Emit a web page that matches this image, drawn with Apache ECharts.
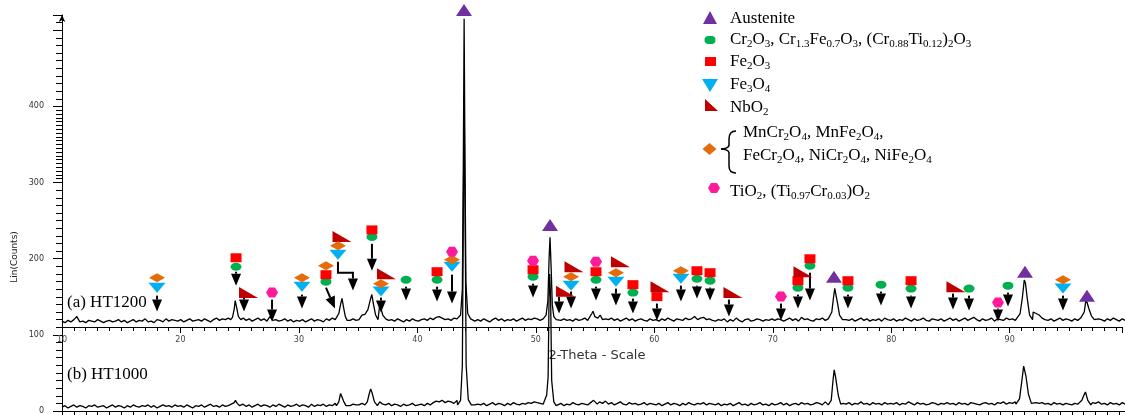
<!DOCTYPE html>
<html><head><meta charset="utf-8">
<script src="https://cdn.jsdelivr.net/npm/echarts@6/dist/echarts.min.js"></script>
<style>html,body{margin:0;padding:0;background:#fff}#c{width:1125px;height:415px}</style>
</head><body><div id="c"></div><script>
// ---------------- data ----------------
const X_MIN = 10, X_MAX = 99.48, STEP = 0.25;
const xTickLabels = [10, 20, 30, 40, 50, 60, 70, 80, 90];
const yTickLabels = [0, 100, 200, 300, 400];

// (a) HT1200 baseline, counts every 0.25 deg from 10.00
const upperBase = [
118,116,119,117,120,124,117,118,116,119,118,117,120,118,116,118,119,117,118,120,
117,119,116,118,120,117,119,118,121,117,118,116,120,119,117,121,118,120,119,118,
120,117,119,121,118,119,120,118,121,119,117,120,122,119,121,120,122,121,125,122,
120,122,119,121,118,120,122,119,121,118,124,119,120,118,119,121,118,120,117,119,
118,120,117,119,121,118,120,119,117,121,119,122,120,118,119,121,120,119,121,119,
120,122,124,126,125,128,132,140,126,121,119,120,118,121,119,117,120,118,121,119,
118,120,121,119,122,120,123,124,122,120,121,119,122,121,123,125,121,119,120,118,
120,118,121,119,117,120,122,119,121,118,120,119,121,118,120,122,119,121,120,122,
121,119,122,124,125,122,120,118,119,121,119,120,118,121,119,120,122,119,121,126,
124,122,125,121,120,122,119,121,118,120,122,119,121,118,120,121,119,118,121,119,
120,118,121,119,122,120,118,121,120,119,122,120,121,124,120,122,123,120,121,119,
118,120,119,121,117,120,118,122,119,117,120,121,118,119,121,120,118,120,119,121,
119,121,120,118,120,122,119,121,118,123,120,121,119,118,121,120,122,119,121,123,
122,121,120,122,120,119,121,118,120,122,119,121,118,120,119,121,118,122,120,119,
121,118,120,119,122,120,118,121,119,120,122,119,118,121,120,119,121,118,120,122,
119,121,118,120,122,119,121,123,120,118,121,119,120,122,118,121,120,119,122,120,
121,119,122,120,124,126,128,130,128,126,122,120,119,121,118,120,122,119,121,120,
118,121,119,122,120,122,124,124,122,121,120,118,121,119,122,120,118,121,119,120
];
// (b) HT1000 baseline, counts every 0.25 deg from 10.00
const lowerBase = [
5,7,4,6,8,5,7,6,4,7,6,8,5,6,7,4,6,8,5,7,
6,4,7,5,8,6,5,7,6,8,5,7,4,6,8,6,7,5,8,6,
7,5,8,6,4,7,6,8,5,7,9,6,7,5,8,6,7,9,11,8,
7,9,6,8,5,7,9,6,8,7,5,8,6,9,7,5,8,6,7,9,
6,8,7,5,9,6,8,7,9,6,8,7,10,8,6,9,8,7,9,8,
8,10,9,12,16,24,20,12,9,8,10,7,9,8,6,9,7,8,10,7,
8,9,7,10,8,11,13,12,14,11,13,12,10,14,11,9,8,9,10,8,
9,8,10,7,9,11,8,10,9,7,10,8,11,9,8,10,9,11,10,12,
11,10,13,16,20,15,9,8,10,7,9,8,11,9,8,10,9,8,11,12,
14,12,10,13,9,11,8,10,12,9,8,11,9,10,8,9,11,8,10,9,
8,10,7,9,11,8,10,9,7,10,8,11,9,8,10,9,11,8,10,9,
8,10,7,9,8,10,7,9,11,8,9,7,10,8,9,11,8,9,7,10,
8,9,11,8,10,7,9,10,8,11,9,10,8,9,11,10,8,12,10,13,
10,11,9,10,9,11,8,10,9,12,9,10,8,11,9,10,8,11,9,10,
9,11,8,10,9,12,10,8,11,9,10,8,9,11,10,8,10,9,11,9,
10,8,11,9,10,8,11,10,9,8,10,11,9,10,8,11,10,12,9,11,
10,12,11,14,12,11,10,12,11,10,11,9,10,8,11,9,10,8,10,9,
8,10,9,11,10,11,10,11,10,12,9,10,8,11,9,10,8,11,9,10
];
// peak profiles [2theta, counts]
const upperPeaks = [
  [[24.2,120],[24.35,123],[24.5,134],[24.58,145],[24.7,136],[24.85,124],[25.05,120]],
  [[33.1,121],[33.3,128],[33.45,140],[33.57,148],[33.7,136],[33.85,124],[34.0,119]],
  [[35.0,120],[35.25,126],[35.5,127],[35.75,133],[35.95,146],[36.08,153],[36.22,140],[36.4,126],[36.6,120]],
  [[43.3,121],[43.55,126],[43.7,160],[43.78,320],[43.85,515],[43.92,330],[44.0,168],[44.15,128],[44.4,121]],
  [[50.5,121],[50.75,126],[50.9,145],[51.0,200],[51.08,228],[51.17,190],[51.27,140],[51.4,124],[51.6,120]],
  [[54.4,120],[54.6,128],[54.7,131],[54.85,124],[55.1,122],[55.3,126],[55.5,120]],
  [[74.6,121],[74.8,130],[74.95,150],[75.05,161],[75.18,150],[75.3,140],[75.45,126],[75.7,120]],
  [[90.4,121],[90.65,128],[90.85,150],[91.0,172],[91.1,168],[91.25,148],[91.45,126],[91.7,120]],
  [[95.8,120],[96.05,130],[96.2,147],[96.3,146],[96.45,134],[96.65,125],[96.9,120]]
];
const lowerPeaks = [
  [[24.3,7],[24.5,11],[24.6,14],[24.75,10],[24.95,7]],
  [[33.1,7],[33.3,12],[33.45,23],[33.55,22],[33.7,13],[33.9,7]],
  [[35.5,8],[35.7,12],[35.85,22],[35.98,29],[36.1,24],[36.3,12],[36.55,7]],
  [[43.3,8],[43.55,14],[43.7,60],[43.78,250],[43.85,413],[43.93,260],[44.02,60],[44.2,15],[44.45,8]],
  [[50.5,9],[50.8,21],[50.92,45],[51.0,150],[51.05,180],[51.13,150],[51.22,40],[51.4,12],[51.6,7]],
  [[54.6,9],[54.75,14],[54.9,12],[55.05,9]],
  [[74.5,8],[74.75,14],[74.9,40],[75.0,54],[75.1,46],[75.2,36],[75.35,20],[75.55,9]],
  [[90.3,9],[90.6,16],[90.8,40],[90.95,59],[91.05,52],[91.15,45],[91.35,22],[91.6,10]],
  [[95.6,9],[95.85,14],[96.0,20],[96.15,25],[96.35,14],[96.6,8]]
];

// phase markers [2theta, counts]
const austenite = [[43.84,526.5],[51.08,244.3],[74.98,176.4],[91.06,182.9],[96.28,151.5]];
const cr2o3 = [[24.65,189.4],[32.22,169.8],[36.09,228.6],[38.96,172.4],[41.57,172.4],[49.65,176.4],[54.95,172.4],[58.06,155.5],[63.45,173.7],[64.55,171.1],[71.95,162],[72.96,190.7],[76.16,162],[78.94,165.9],[81.47,160.7],[86.35,160.7],[89.63,164.6]];
const fe2o3 = [[24.65,201.2],[32.22,179],[36.09,237.8],[41.57,182.9],[49.65,185.5],[54.95,182.9],[58.06,165.9],[60.08,150.2],[63.45,184.2],[64.55,181.6],[71.95,171.1],[72.96,199.9],[76.16,171.1],[81.47,171.1]];
const fe3o4 = [[18.0,162],[30.2,163.3],[33.23,205.1],[36.85,156.8],[42.83,189.4],[52.85,164.6],[56.63,169.8],[62.1,173.7],[94.26,160.7]];
const nbo2 = [[25.70,155.5],[33.57,229.3],[37.31,180.3],[52.38,157.4],[53.1,189.4],[57.01,196],[60.34,163.3],[66.48,155.5],[72.37,182.9],[85.25,163.3]];
const spinel = [[18.0,175],[30.2,175],[32.22,190.7],[33.23,216.9],[36.85,167.2],[42.83,198.6],[52.85,176.4],[56.63,181.6],[62.1,184.2],[94.26,172.4]];
const tio2 = [[27.68,155.5],[42.83,209],[49.65,197.3],[54.95,196],[70.52,150.2],[88.79,142.4]];
// arrows: polyline from start to tip, [2theta, counts]
const arrows = [
  [[18.0,151.5],[18.0,130.6]],
  [[24.65,182.9],[24.65,164.6]],
  [[25.32,150.2],[25.32,130.6]],
  [[27.68,146.3],[27.68,117.6]],
  [[30.2,152.8],[30.2,134.6]],
  [[32.22,162.0],[32.98,134.6]],
  [[33.23,196.0],[33.23,181.6],[34.49,181.6],[34.49,158.1]],
  [[36.09,219.5],[36.09,184.2]],
  [[36.85,148.9],[36.85,129.3]],
  [[38.96,163.3],[38.96,145.0]],
  [[41.57,163.3],[41.57,143.7]],
  [[42.83,179.0],[42.83,141.1]],
  [[49.65,167.2],[49.65,148.9]],
  [[51.84,150.2],[51.84,128.0]],
  [[52.85,156.8],[52.85,134.6]],
  [[54.95,163.3],[54.95,145.0]],
  [[56.63,160.7],[56.63,138.5]],
  [[58.06,147.6],[58.06,128.0]],
  [[60.08,141.1],[60.08,118.9]],
  [[62.1,164.6],[62.1,143.7]],
  [[63.45,164.6],[63.45,147.6]],
  [[64.55,162.0],[64.55,145.0]],
  [[66.14,146.3],[66.14,124.1]],
  [[70.52,141.1],[70.52,118.9]],
  [[71.95,152.8],[71.95,134.6]],
  [[72.96,181.6],[72.96,145.0]],
  [[76.16,152.8],[76.16,134.6]],
  [[78.94,156.8],[78.94,138.5]],
  [[81.47,151.5],[81.47,134.6]],
  [[85.0,154.1],[85.0,133.2]],
  [[86.35,151.5],[86.35,131.9]],
  [[88.79,134.6],[88.79,117.6]],
  [[89.63,155.5],[89.63,137.2]],
  [[94.26,151.5],[94.26,131.9]]
];
const legendRows = [
  'Austenite',
  'Cr[2]O[3], Cr[1.3]Fe[0.7]O[3], (Cr[0.88]Ti[0.12])[2]O[3]',
  'Fe[2]O[3]',
  'Fe[3]O[4]',
  'NbO[2]',
  'MnCr[2]O[4], MnFe[2]O[4],',
  'FeCr[2]O[4], NiCr[2]O[4], NiFe[2]O[4]',
  'TiO[2], (Ti[0.97]Cr[0.03])O[2]'
];
const sampleLabels = ['(a) HT1200', '(b) HT1000'];
const xName = '2-Theta - Scale', yName = 'Lin(Counts)';

// ---------------- build ----------------
function merge(base, peaks) {
  const ranges = peaks.map(p => [p[0][0], p[p.length - 1][0]]);
  const pts = [];
  base.forEach((v, i) => {
    const x = X_MIN + i * STEP;
    if (!ranges.some(r => x >= r[0] && x <= r[1])) pts.push([x, v]);
  });
  peaks.forEach(p => p.forEach(q => pts.push(q)));
  pts.sort((a, b) => a[0] - b[0]);
  return pts;
}
function chem(s) {
  return s.split(/(\[[^\]]*\])/).filter(p => p.length).map(p =>
    p[0] === '[' ? '{s|' + p.slice(1, -1) + '}' : '{n|' + p + '}').join('');
}
const SERIF = '"Liberation Serif","Times New Roman",serif';
const RICH = {
  n: { fontSize: 17, fontFamily: SERIF, lineHeight: 20, color: '#000' },
  s: { fontSize: 11, fontFamily: SERIF, lineHeight: 12, verticalAlign: 'bottom', color: '#000' }
};
const C = { aus: '#7030A0', cr: '#00B050', fe2: '#FF0000', fe3: '#00B0F0', nb: '#C00000', sp: '#E46C0A', ti: '#FF1A9C' };

function scatter(data, symbol, size, color) {
  return { type: 'scatter', xAxisIndex: 0, yAxisIndex: 0, data, symbol, symbolSize: size,
    itemStyle: { color, opacity: 1 }, clip: false, z: 6, silent: true };
}
const BLACK = { color: '#000', width: 1 };
function xMinorAxis(grid, labels) {
  return { type: 'value', gridIndex: grid, position: 'bottom', min: X_MIN, max: X_MAX, interval: 1,
    axisLine: { show: true, onZero: false, lineStyle: BLACK },
    axisTick: { show: true, length: 4, lineStyle: BLACK },
    axisLabel: labels ? { show: true, margin: 9, fontSize: 8, fontFamily: 'DejaVu Sans', color: '#444',
      formatter: v => (xTickLabels.indexOf(Math.round(v * 100) / 100) >= 0 ? String(v) : '') } : { show: false },
    splitLine: { show: false } };
}
function xMajorAxis(grid) {
  return { type: 'value', gridIndex: grid, position: 'bottom', offset: 0, min: X_MIN, max: X_MAX, interval: 10,
    axisLine: { show: false, onZero: false }, axisLabel: { show: false }, splitLine: { show: false },
    axisTick: { show: true, length: 6, lineStyle: BLACK } };
}

const graphic = [];
// sample labels & axis names
graphic.push({ type: 'text', x: 67, y: 303, style: { text: sampleLabels[0], font: '17px ' + SERIF, fill: '#000', align: 'left', verticalAlign: 'middle' } });
graphic.push({ type: 'text', x: 67, y: 375, style: { text: sampleLabels[1], font: '17px ' + SERIF, fill: '#000', align: 'left', verticalAlign: 'middle' } });
graphic.push({ type: 'text', x: 597, y: 356, style: { text: xName, font: '13px "DejaVu Sans"', fill: '#333', align: 'center', verticalAlign: 'middle' } });
graphic.push({ type: 'text', x: 15, y: 257, rotation: Math.PI / 2, style: { text: yName, font: '9px "DejaVu Sans"', fill: '#222', align: 'center', verticalAlign: 'middle' } });
// legend symbols
graphic.push({ type: 'polygon', shape: { points: [[703, 24], [717, 24], [710, 11]] }, style: { fill: C.aus } });
graphic.push({ type: 'rect', shape: { x: 704.5, y: 36, width: 11, height: 8, r: 4 }, style: { fill: C.cr } });
graphic.push({ type: 'rect', shape: { x: 705, y: 57, width: 11, height: 9 }, style: { fill: C.fe2 } });
graphic.push({ type: 'polygon', shape: { points: [[702, 79], [718, 79], [710, 92]] }, style: { fill: C.fe3 } });
graphic.push({ type: 'polygon', shape: { points: [[705, 99], [705, 111], [718, 111]] }, style: { fill: C.nb } });
graphic.push({ type: 'polygon', shape: { points: [[702.5, 149], [709.5, 143], [716.5, 149], [709.5, 155]] }, style: { fill: C.sp } });
graphic.push({ type: 'polygon', shape: { points: [[711, 183], [717, 183], [720, 188], [717, 193], [711, 193], [708, 188]] }, style: { fill: C.ti } });
// brace
const BS = { stroke: '#000', lineWidth: 1.5, fill: null };
graphic.push({ type: 'bezierCurve', shape: { x1: 736, y1: 131, cpx1: 731, cpy1: 131, cpx2: 729, cpy2: 134, x2: 729, y2: 139 }, style: BS });
graphic.push({ type: 'line', shape: { x1: 729, y1: 139, x2: 729, y2: 145 }, style: BS });
graphic.push({ type: 'bezierCurve', shape: { x1: 729, y1: 145, cpx1: 729, cpy1: 148, cpx2: 724, cpy2: 149, x2: 721, y2: 149 }, style: BS });
graphic.push({ type: 'bezierCurve', shape: { x1: 721, y1: 149, cpx1: 724, cpy1: 149, cpx2: 729, cpy2: 150, x2: 729, y2: 153 }, style: BS });
graphic.push({ type: 'line', shape: { x1: 729, y1: 153, x2: 729, y2: 166 }, style: BS });
graphic.push({ type: 'bezierCurve', shape: { x1: 729, y1: 166, cpx1: 729, cpy1: 171, cpx2: 731, cpy2: 173, x2: 736, y2: 173 }, style: BS });
// legend texts
const rowPos = [[730, 19], [730, 40], [730, 62], [730, 85], [730, 108], [743, 133], [743, 156], [730, 192]];
legendRows.forEach((t, i) => {
  graphic.push({ type: 'text', x: rowPos[i][0], y: rowPos[i][1], style: { text: chem(t), rich: RICH, align: 'left', verticalAlign: 'middle' } });
});

const option = {
  animation: false,
  grid: [
    { left: 62, right: 0, top: 15, bottom: 2 },
    { left: 62, right: 0, top: 15, bottom: 88 }
  ],
  xAxis: [
    xMinorAxis(0, false),
    xMinorAxis(1, true),
    xMajorAxis(0),
    xMajorAxis(1)
  ],
  yAxis: [
    { type: 'value', gridIndex: 0, min: 0, max: 520, interval: 100,
      axisLine: { show: true, lineStyle: BLACK, symbol: ['none', 'arrow'], symbolSize: [5, 7] },
      axisTick: { show: true, length: 9, lineStyle: { color: '#000' } },
      minorTick: { show: true, splitNumber: 10, length: 6, lineStyle: { color: '#000' } },
      axisLabel: { margin: 18, fontSize: 8, fontFamily: 'DejaVu Sans', color: '#333',
        formatter: v => (yTickLabels.indexOf(v) >= 0 ? String(v) : '') },
      splitLine: { show: false }, minorSplitLine: { show: false } },
    { type: 'value', gridIndex: 1, min: 0, max: 1, show: false },
    { type: 'value', gridIndex: 0, min: 0, max: 520, position: 'left',
      axisLine: { show: false }, axisLabel: { show: false }, splitLine: { show: false },
      axisTick: { show: true, length: 6, lineStyle: { color: '#000' },
        customValues: [305, 315, 325, 335, 345, 355, 365, 375, 385, 395] } }
  ],
  graphic,
  series: [
    { type: 'line', xAxisIndex: 0, yAxisIndex: 0, data: merge(lowerBase, lowerPeaks), showSymbol: false, symbol: 'none',
      lineStyle: { color: '#000', width: 1.3 }, z: 3, silent: true },
    { type: 'line', xAxisIndex: 0, yAxisIndex: 0, data: merge(upperBase, upperPeaks), showSymbol: false, symbol: 'none',
      lineStyle: { color: '#000', width: 1.3 }, z: 3, silent: true },
    { type: 'custom', xAxisIndex: 0, yAxisIndex: 0, clip: false, z: 5, silent: true,
      data: arrows.map(a => a[a.length - 1]), encode: { x: 0, y: 1 },
      renderItem(params, api) {
        const pts = arrows[params.dataIndex].map(p => api.coord(p));
        const n = pts.length, tip = pts[n - 1], prev = pts[n - 2];
        let dx = tip[0] - prev[0], dy = tip[1] - prev[1];
        const L = Math.hypot(dx, dy) || 1; dx /= L; dy /= L;
        const HL = 12, HW = 5;
        const base = [tip[0] - dx * HL, tip[1] - dy * HL];
        const shaft = pts.slice(0, n - 1).concat([base]);
        const px = -dy, py = dx;
        return { type: 'group', children: [
          { type: 'polyline', shape: { points: shaft }, style: { stroke: '#000', lineWidth: 2, fill: null } },
          { type: 'polygon', shape: { points: [tip, [base[0] + px * HW, base[1] + py * HW], [base[0] - px * HW, base[1] - py * HW]] }, style: { fill: '#000' } }
        ] };
      } },
    scatter(austenite, 'triangle', [16, 12], C.aus),
    scatter(cr2o3, 'path://M0,4A5.5,4,0,1,1,11,4A5.5,4,0,1,1,0,4Z', [11, 8], C.cr),
    scatter(fe2o3, 'rect', [11, 9], C.fe2),
    scatter(fe3o4, 'path://M0,0L16,0L8,10Z', [17, 10], C.fe3),
    scatter(nbo2, 'path://M0,0L0,11L19,11Z', [19, 11], C.nb),
    scatter(spinel, 'diamond', [16, 9], C.sp),
    scatter(tio2, 'path://M3,0L9,0L12,5L9,10L3,10L0,5Z', [12, 10], C.ti)
  ]
};
const chart = echarts.init(document.getElementById('c'), null, { renderer: 'canvas' });
chart.setOption(option);
</script></body></html>
